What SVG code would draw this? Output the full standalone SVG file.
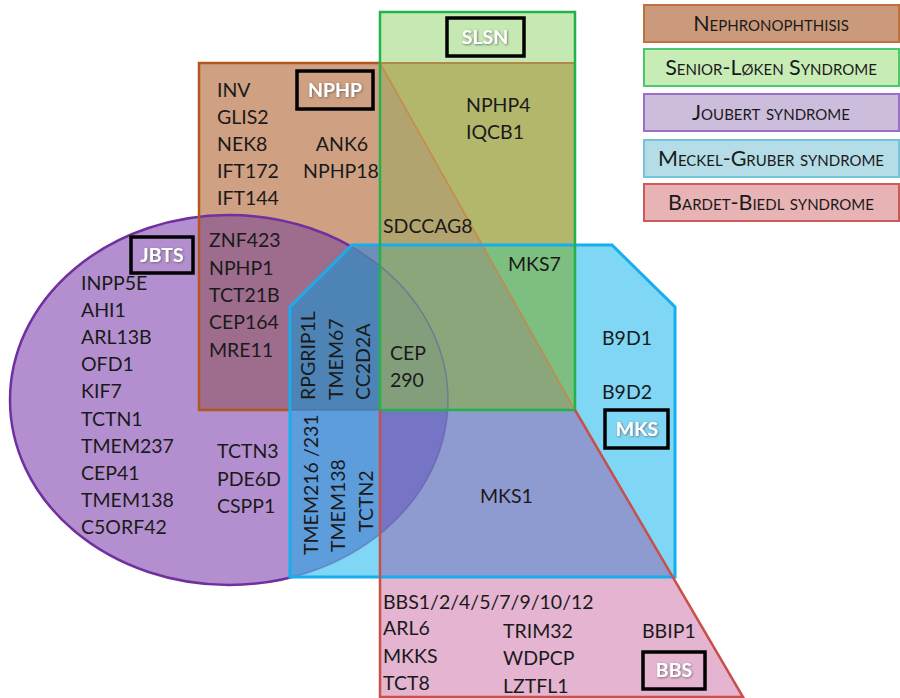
<svg xmlns="http://www.w3.org/2000/svg" width="900" height="698" viewBox="0 0 900 698">
  <style>
    .lbl { font-family: Lato, "Liberation Sans", sans-serif; font-size: 19.5px; fill: #1a1a1a; }
    .tag { font-family: Lato, "Liberation Sans", sans-serif; font-size: 19.5px; font-weight: bold; fill: #ffffff; text-anchor: middle; filter: url(#glow); }
    .tagbox { fill: none; stroke: #000; stroke-width: 3.5; }
    .leg { font-family: Lato, "Liberation Sans", sans-serif; font-size: 21.5px; font-variant: small-caps; fill: #1a1a1a; text-anchor: middle; }
    .legbox { stroke-width: 2; }
  </style>
  <defs>
    <filter id="glow" x="-20%" y="-20%" width="140%" height="140%">
      <feDropShadow dx="0.8" dy="0.8" stdDeviation="0.8" flood-color="#555" flood-opacity="0.8"/>
    </filter>
    <clipPath id="clipE"><ellipse cx="229" cy="400" rx="219" ry="185"/></clipPath>
    <clipPath id="clipM"><polygon points="290,307 352,245 612,245 675,307 675,577 290,577"/></clipPath>
    <clipPath id="clipOutM"><path d="M0,0H900V698H0Z M290,307 L290,577 L675,577 L675,307 L612,245 L352,245 Z" clip-rule="evenodd"/></clipPath>
  </defs>

  <!-- Region fills, painted as opaque areas -->
  <g id="fills">
    <!-- Joubert ellipse -->
    <ellipse cx="229" cy="400" rx="219" ry="185" fill="#B48FCF"/>
    <!-- Nephronophthisis (left part) -->
    <rect x="199" y="63" width="181" height="347" fill="#CFA082"/>
    <g clip-path="url(#clipE)"><rect x="199" y="63" width="181" height="347" fill="#9E6C8D"/></g>
    <!-- Meckel-Gruber -->
    <polygon points="290,307 352,245 612,245 675,307 675,577 290,577" fill="#80D6F5"/>
    <g clip-path="url(#clipM)">
      <ellipse cx="229" cy="400" rx="219" ry="185" fill="#5E9DDC"/>
      <rect x="199" y="63" width="181" height="347" fill="#6C8FB8"/>
      <g clip-path="url(#clipE)"><rect x="199" y="63" width="181" height="347" fill="#4E83B5"/></g>
    </g>
    <!-- Senior-Loken -->
    <rect x="380" y="12" width="195" height="51" fill="#C6E8B2"/>
    <polygon points="380,63 575,63 575,410" fill="#B3B76C"/>
    <polygon points="380,63 575,410 380,410" fill="#B2A46E"/>
    <g clip-path="url(#clipM)">
      <polygon points="380,63 575,63 575,410" fill="#7DBF80"/>
      <polygon points="380,63 575,410 380,410" fill="#8AA67A"/>
      <g clip-path="url(#clipE)"><polygon points="380,63 575,410 380,410" fill="#839E7B"/></g>
    </g>
    <!-- Bardet-Biedl -->
    <polygon points="380,410 575,410 743,697 380,697" fill="#E5B4D1"/>
    <g clip-path="url(#clipM)">
      <polygon points="380,410 575,410 743,697 380,697" fill="#8E9BD1"/>
      <g clip-path="url(#clipE)"><polygon points="380,410 575,410 743,697 380,697" fill="#7674C4"/></g>
    </g>
  </g>

  <!-- Set outlines -->
  <g id="outlines" fill="none">
    <ellipse cx="229" cy="400" rx="219" ry="185" stroke="#7030A0" stroke-width="2.5" clip-path="url(#clipOutM)"/>
    <ellipse cx="229" cy="400" rx="219" ry="185" stroke="#5A4EA8" stroke-width="1.5" stroke-opacity="0.45" clip-path="url(#clipM)"/>
    <polyline points="380,63 199,63 199,410 290,410" stroke="#B4561F" stroke-width="2.5"/>
    <line x1="290" y1="410" x2="380" y2="410" stroke="#3F6E9E" stroke-width="1.5" stroke-opacity="0.6"/>
    <line x1="380" y1="63" x2="575" y2="63" stroke="#B0884A" stroke-width="2"/>
    <line x1="380" y1="63" x2="575" y2="410" stroke="#C8874A" stroke-width="1.5"/>
    <polygon points="290,307 352,245 612,245 675,307 675,577 290,577" stroke="#17AEEE" stroke-width="3"/>
    <rect x="380" y="12" width="195" height="398" stroke="#22B24C" stroke-width="2.5"/>
    <polyline points="380,410 380,697 743,697 575,410" stroke="#C8504A" stroke-width="2.5"/>
  </g>

  <!-- Nephronophthisis set -->
  <g id="nphp">
    <rect class="tagbox" x="297" y="71" width="76" height="38"/>
    <text class="tag" x="335" y="97">NPHP</text>
    <text class="lbl" x="217" y="97">INV</text>
    <text class="lbl" x="217" y="124">GLIS2</text>
    <text class="lbl" x="217" y="151">NEK8</text>
    <text class="lbl" x="217" y="178">IFT172</text>
    <text class="lbl" x="217" y="205">IFT144</text>
    <text class="lbl" x="342" y="151" text-anchor="middle">ANK6</text>
    <text class="lbl" x="341" y="178" text-anchor="middle">NPHP18</text>
    <text class="lbl" x="383" y="233">SDCCAG8</text>
  </g>

  <!-- Senior-Loken set -->
  <g id="slsn">
    <rect class="tagbox" x="447" y="18" width="77" height="38"/>
    <text class="tag" x="485" y="44">SLSN</text>
    <text class="lbl" x="466" y="112">NPHP4</text>
    <text class="lbl" x="466" y="139">IQCB1</text>
  </g>

  <!-- Joubert set -->
  <g id="jbts">
    <rect class="tagbox" x="131" y="237" width="62" height="36"/>
    <text class="tag" x="162" y="262">JBTS</text>
    <text class="lbl" x="209" y="247">ZNF423</text>
    <text class="lbl" x="209" y="275">NPHP1</text>
    <text class="lbl" x="209" y="302">TCT21B</text>
    <text class="lbl" x="209" y="329">CEP164</text>
    <text class="lbl" x="209" y="357">MRE11</text>
    <text class="lbl" x="81" y="290">INPP5E</text>
    <text class="lbl" x="81" y="317">AHI1</text>
    <text class="lbl" x="81" y="344">ARL13B</text>
    <text class="lbl" x="81" y="371">OFD1</text>
    <text class="lbl" x="81" y="398">KIF7</text>
    <text class="lbl" x="81" y="426">TCTN1</text>
    <text class="lbl" x="81" y="453">TMEM237</text>
    <text class="lbl" x="81" y="480">CEP41</text>
    <text class="lbl" x="81" y="507">TMEM138</text>
    <text class="lbl" x="81" y="534">C5ORF42</text>
    <text class="lbl" x="217" y="458">TCTN3</text>
    <text class="lbl" x="217" y="486">PDE6D</text>
    <text class="lbl" x="217" y="513">CSPP1</text>
  </g>

  <!-- Meckel-Gruber set -->
  <g id="mks">
    <rect class="tagbox" x="605" y="410" width="63" height="38"/>
    <text class="tag" x="637" y="436">MKS</text>
    <text class="lbl" x="508" y="271">MKS7</text>
    <text class="lbl" x="390" y="360">CEP</text>
    <text class="lbl" x="390" y="387">290</text>
    <text class="lbl" x="602" y="345">B9D1</text>
    <text class="lbl" x="602" y="399">B9D2</text>
    <text class="lbl" x="480" y="503">MKS1</text>
    <text class="lbl" transform="translate(315,400) rotate(-90)">RPGRIP1L</text>
    <text class="lbl" transform="translate(343,400) rotate(-90)">TMEM67</text>
    <text class="lbl" transform="translate(370,400) rotate(-90)">CC2D2A</text>
    <text class="lbl" transform="translate(318,555) rotate(-90)">TMEM216 /231</text>
    <text class="lbl" transform="translate(345,552) rotate(-90)">TMEM138</text>
    <text class="lbl" transform="translate(373,532) rotate(-90)">TCTN2</text>
  </g>

  <!-- Bardet-Biedl set -->
  <g id="bbs">
    <rect class="tagbox" x="643" y="652" width="62" height="37"/>
    <text class="tag" x="674" y="677">BBS</text>
    <text class="lbl" x="383" y="609">BBS1/2/4/5/7/9/10/12</text>
    <text class="lbl" x="383" y="635">ARL6</text>
    <text class="lbl" x="383" y="663">MKKS</text>
    <text class="lbl" x="383" y="690">TCT8</text>
    <text class="lbl" x="503" y="638">TRIM32</text>
    <text class="lbl" x="503" y="665">WDPCP</text>
    <text class="lbl" x="503" y="693">LZTFL1</text>
    <text class="lbl" x="642" y="638">BBIP1</text>
  </g>

  <!-- Legend -->
  <g id="legend-nphp">
    <rect class="legbox" x="644" y="5" width="255" height="37" fill="#CB9A7C" stroke="#C0703A"/>
    <text class="leg" x="771" y="31">Nephronophthisis</text>
  </g>
  <g id="legend-slsn">
    <rect class="legbox" x="644" y="49" width="255" height="37" fill="#C8ECB5" stroke="#4CC76B"/>
    <text class="leg" x="771" y="75">Senior-Løken Syndrome</text>
  </g>
  <g id="legend-jbts">
    <rect class="legbox" x="644" y="94" width="255" height="37" fill="#CDBDDC" stroke="#9A6FC9"/>
    <text class="leg" x="771" y="120">Joubert syndrome</text>
  </g>
  <g id="legend-mks">
    <rect class="legbox" x="644" y="140" width="255" height="37" fill="#B4DDE7" stroke="#73C5DA"/>
    <text class="leg" x="771" y="166">Meckel-Gruber syndrome</text>
  </g>
  <g id="legend-bbs">
    <rect class="legbox" x="644" y="184" width="255" height="37" fill="#E8B3B4" stroke="#CC5A56"/>
    <text class="leg" x="771" y="210">Bardet-Biedl syndrome</text>
  </g>
</svg>
